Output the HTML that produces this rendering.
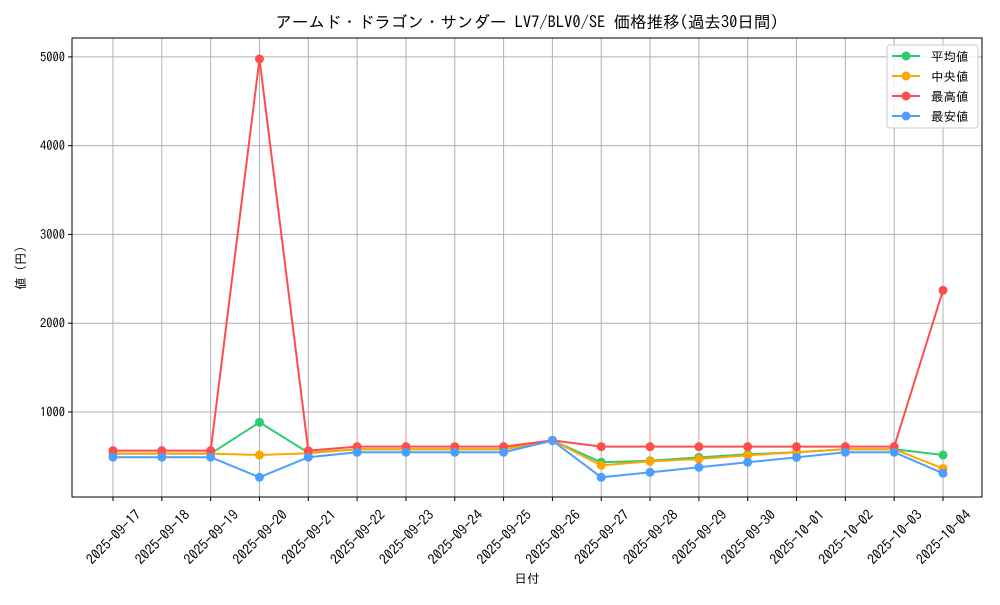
<!DOCTYPE html>
<html><head><meta charset="utf-8"><style>
body{margin:0;background:#fff;}
svg text{font-family:"IPAGothic","Liberation Sans","Noto Sans CJK JP",sans-serif;fill:#000;}
</style></head><body>
<svg id="chart" width="1000" height="600" xmlns="http://www.w3.org/2000/svg">
<text x="527" y="28" font-size="16.5" text-anchor="middle">アームド・ドラゴン・サンダー LV7/BLV0/SE 価格推移(過去30日間)</text>
<g id="grid"></g>
<g id="series"></g>
<rect x="72" y="38" width="910" height="459" fill="none" stroke="#000" stroke-width="1"/>
<g id="axes"></g>
<text x="527" y="583" font-size="12.5" text-anchor="middle">日付</text>
<text x="25" y="268" font-size="12.5" text-anchor="middle" transform="rotate(-90 25 268)">値 (円)</text>
<g>
<rect x="887" y="45" width="91" height="83" rx="3" fill="#fff" fill-opacity="0.8" stroke="#ccc"/>
<g id="legend"></g>
</g>
</svg>
<script>
const categories=["2025-09-17","2025-09-18","2025-09-19","2025-09-20","2025-09-21","2025-09-22","2025-09-23","2025-09-24","2025-09-25","2025-09-26","2025-09-27","2025-09-28","2025-09-29","2025-09-30","2025-10-01","2025-10-02","2025-10-03","2025-10-04"];
const avgValues=[530,530,530,884,541,580,580,580,580,680,433,450,489,523,546,580,580,515];
const medValues=[530,530,530,515,535,580,580,580,580,680,399,444,470,512,546,580,580,362];
const maxValues=[564,564,564,4977,564,609,609,609,609,680,609,609,609,609,609,609,609,2371];
const minValues=[490,490,490,264,490,546,546,546,546,677,264,320,377,433,489,546,546,309];
const yTicks=[1000,2000,3000,4000,5000];
const seriesNames=["平均値","中央値","最高値","最安値"];
const seriesColors=["#2ecc71","#ffa500","#ff4d4d","#4d9eff"];
const X0=72,X1=982,Y0=38,Y1=497,yMin=42,yMax=5213;
function xPos(i){return 113+i*(943-113)/(categories.length-1);}
function yPos(v){return Y1-(v-yMin)/(yMax-yMin)*(Y1-Y0);}
const NS="http://www.w3.org/2000/svg";
function mk(t,a,p){const e=document.createElementNS(NS,t);for(const k in a)e.setAttribute(k,a[k]);p.appendChild(e);return e;}
const grid=document.getElementById('grid'),axes=document.getElementById('axes'),ser=document.getElementById('series'),leg=document.getElementById('legend');
categories.forEach((c,i)=>{const x=xPos(i);
 const g=mk('line',{x1:x,x2:x,y1:Y0,y2:Y1,stroke:'#b0b0b0','stroke-width':1},grid);
 
 const t=mk('line',{x1:x,x2:x,y1:Y1,y2:Y1+4,stroke:'#000'},axes);
 
 const cx=x+0.5,cy=537;
 const l=mk('text',{x:cx,y:cy+5,'font-size':14,'text-anchor':'middle',transform:`rotate(-45 ${cx} ${cy})`},axes);
 l.textContent=c;
});
yTicks.forEach(v=>{const y=yPos(v);
 const g=mk('line',{x1:X0,x2:X1,y1:y,y2:y,stroke:'#b0b0b0','stroke-width':1},grid);
 
 const t=mk('line',{x1:X0-4,x2:X0,y1:y,y2:y,stroke:'#000'},axes);
 
 const l=mk('text',{x:X0-7,y:y+4.5,'font-size':12.5,'text-anchor':'end'},axes);
 l.textContent=v;
});
[avgValues,medValues,maxValues,minValues].forEach((vals,s)=>{
 const col=seriesColors[s];
 const pl=mk('polyline',{points:vals.map((v,i)=>xPos(i)+','+yPos(v)).join(' '),fill:'none',stroke:col,'stroke-width':2},ser);
 
 vals.forEach((v,i)=>{const c=mk('circle',{cx:xPos(i),cy:yPos(v),r:4.5,fill:col},ser);
  });
 const ly=56+s*20;
 const ll=mk('line',{x1:892,x2:920,y1:ly,y2:ly,stroke:col,'stroke-width':2},leg);
 
 const lc=mk('circle',{cx:906,cy:ly,r:4.5,fill:col},leg);
 
 const lt=mk('text',{x:931,y:ly+5,'font-size':12.5},leg);
 lt.textContent=(s==1?' ':'')+seriesNames[s];
});
</script>
</body></html>
